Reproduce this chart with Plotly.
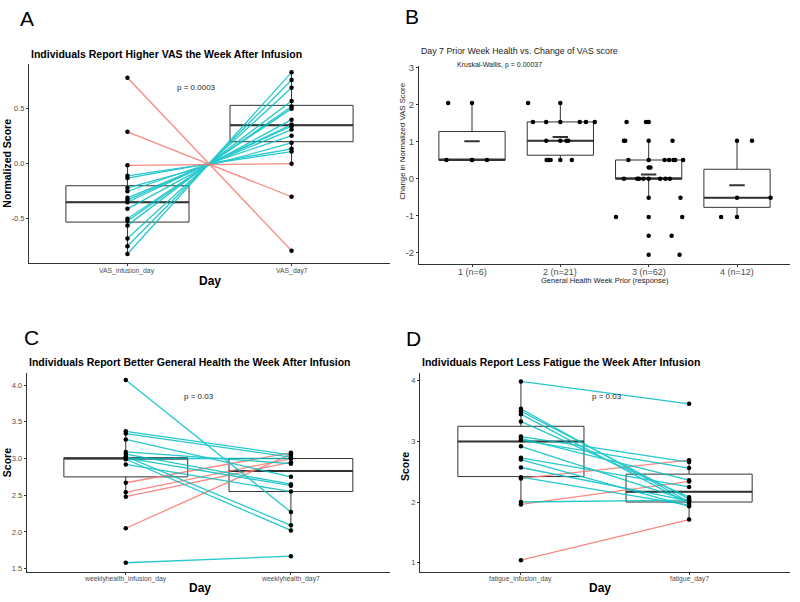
import plotly.graph_objects as go

# ---------------- DATA ----------------
# Panel A: normalized VAS
vas_days = ["VAS_infusion_day", "VAS_day7"]
vas_infusion = [0.78, 0.29, -0.015, -0.82, -0.75, -0.68, -0.56, -0.52, -0.50, -0.41, -0.35, -0.33, -0.31, -0.25, -0.22, -0.13, -0.11]
vas_day7 = [-0.79, -0.30, 0.0, 0.83, 0.76, 0.69, 0.57, 0.52, 0.50, 0.40, 0.355, 0.34, 0.31, 0.255, 0.19, 0.135, 0.11]
vas_group = ["down"] * 3 + ["up"] * 14
vas_q1 = [-0.53, 0.20]
vas_med = [-0.35, 0.35]
vas_q3 = [-0.20, 0.53]
vas_lo = [-0.82, 0.0]
vas_hi = [-0.015, 0.83]

# Panel B: change in VAS by general health
b_cats = ["1 (n=6)", "2 (n=21)", "3 (n=62)", "4 (n=12)"]
b_q1 = [0.51, 0.64, 0.0, -0.77]
b_med = [0.51, 1.03, 0.0, -0.51]
b_q3 = [1.28, 1.54, 0.51, 0.26]
b_lo = [0.51, 0.51, -0.51, -1.03]
b_hi = [2.05, 2.05, 1.03, 1.03]
b_mean = [1.02, 1.13, 0.12, -0.17]
b_g1_vals = [2.05, 2.05, 0.51, 0.51, 0.51, 0.51]
b_g1_jit = [-0.27, 0.0, -0.29, 0.0, 0.17, 0.0]
b_g2_vals = [2.05, 2.05, 1.54, 1.54, 1.54, 1.54, 1.54, 1.54, 1.03, 1.03, 1.03, 1.03, 0.51, 0.51, 0.51, 0.51, 0.51]
b_g2_jit = [-0.365, 0.0, -0.31, -0.16, 0.0, 0.22, 0.29, 0.39, -0.16, 0.0, 0.07, 0.09, -0.155, -0.13, -0.11, 0.0, 0.13]
b_g3_vals = [1.54, 1.54, 1.54, 1.03, 1.03, 1.03, 1.03, 0.51, 0.51, 0.51, 0.51, 0.51, 0.51, 0.51, 0.31, 0.31,
             0.0, 0.0, 0.0, 0.0, 0.0, 0.0, 0.0, 0.0, -0.51, -0.51, -1.03, -1.03, -1.03, -1.54, -1.54, -2.05, -2.05]
b_g3_jit = [-0.25, -0.03, 0.0, -0.28, -0.265, 0.0, 0.27, -0.23, 0.0, 0.18, 0.23, 0.28, 0.30, 0.39, 0.0, 0.02,
            -0.28, -0.13, -0.11, -0.06, 0.0, 0.13, 0.19, 0.24, 0.0, 0.36, -0.37, 0.0, 0.38, 0.0, 0.26, 0.0, 0.35]
b_g4_vals = [1.03, 1.03, -0.51, -0.51, -1.03, -1.03]
b_g4_jit = [0.0, 0.17, 0.0, 0.38, -0.18, 0.0]

# Panel C: weekly general health
health_days = ["weeklyhealth_infusion_day", "weeklyhealth_day7"]
health_infusion = [4.07, 3.37, 3.34, 3.26, 3.09, 3.06, 3.03, 3.01, 2.99, 2.92, 3.00, 1.58, 2.67, 2.54, 2.48, 2.05]
health_day7 = [2.27, 3.05, 3.02, 2.75, 2.93, 2.65, 2.09, 2.63, 2.02, 2.55, 3.00, 1.67, 3.08, 3.00, 2.95, 3.06]
health_group = ["down"] * 12 + ["up"] * 4
health_q1 = [2.75, 2.55]
health_med = [3.0, 2.83]
health_q3 = [3.01, 3.0]
health_lo = [2.47, 2.02]
health_hi = [3.37, 3.08]

# Panel D: fatigue
fat_days = ["fatigue_infusion_day", "fatigue_day7"]
fat_infusion = [3.99, 3.54, 3.50, 3.45, 3.33, 3.08, 3.05, 3.02, 2.92, 2.73, 2.70, 2.57, 2.41, 2.00, 2.39, 1.96, 1.04]
fat_day7 = [3.62, 2.00, 2.05, 1.97, 2.08, 2.66, 2.36, 2.56, 2.02, 2.25, 1.93, 2.02, 1.95, 2.03, 2.69, 2.34, 1.71]
fat_group = ["down"] * 14 + ["up"] * 3
fat_q1 = [2.42, 2.0]
fat_med = [3.0, 2.17]
fat_q3 = [3.25, 2.46]
fat_lo = [1.96, 1.71]
fat_hi = [3.99, 2.69]

# ---------------- STYLE ----------------
TEAL = "#00BFC4"
RED = "#F8766D"
AX = "#333333"
TICK = "#4D4D4D"
FONT = "Liberation Sans, Arial, sans-serif"
W, H = 800, 602
BOXW = 0.75


def px(x):
    return x / W


def py(y):
    return 1 - y / H


fig = go.Figure()


def add_boxes(xa, ya, q1, med, q3, lo, hi):
    pos = list(range(len(q1)))
    fig.add_trace(go.Box(
        x=pos, q1=q1, median=med, q3=q3, lowerfence=lo, upperfence=hi,
        width=BOXW, fillcolor="white", line=dict(color=AX, width=1),
        whiskerwidth=0, boxpoints=False, orientation="v",
        xaxis=xa, yaxis=ya, showlegend=False, hoverinfo="skip"))
    mx, my = [], []
    for i, m in enumerate(med):
        mx += [i - BOXW / 2, i + BOXW / 2, None]
        my += [m, m, None]
    fig.add_trace(go.Scatter(x=mx, y=my, mode="lines", line=dict(color=AX, width=2),
                             xaxis=xa, yaxis=ya, showlegend=False, hoverinfo="skip"))


def add_pairs(xa, ya, left, right, group, up_color):
    for grp in ["up", "down"]:
        lx, ly = [], []
        for a, b, g in zip(left, right, group):
            if g == grp:
                lx += [0, 1, None]
                ly += [a, b, None]
        col = up_color if grp == "up" else (RED if up_color == TEAL else TEAL)
        fig.add_trace(go.Scatter(x=lx, y=ly, mode="lines", line=dict(color=col, width=1.3),
                                 opacity=0.85, xaxis=xa, yaxis=ya, showlegend=False, hoverinfo="skip"))
    fig.add_trace(go.Scatter(x=[0] * len(left) + [1] * len(right), y=list(left) + list(right),
                             mode="markers", marker=dict(color="black", size=4.5),
                             xaxis=xa, yaxis=ya, showlegend=False, hoverinfo="skip"))


# Panel A
add_boxes("x", "y", vas_q1, vas_med, vas_q3, vas_lo, vas_hi)
add_pairs("x", "y", vas_infusion, vas_day7, vas_group, TEAL)

# Panel B
add_boxes("x2", "y2", b_q1, b_med, b_q3, b_lo, b_hi)
bx, by = [], []
for gi, (vals, jit) in enumerate([(b_g1_vals, b_g1_jit), (b_g2_vals, b_g2_jit),
                                  (b_g3_vals, b_g3_jit), (b_g4_vals, b_g4_jit)]):
    for v, j in zip(vals, jit):
        bx.append(gi + j)
        by.append(v)
fig.add_trace(go.Scatter(x=bx, y=by, mode="markers", marker=dict(color="black", size=4.5),
                         xaxis="x2", yaxis="y2", showlegend=False, hoverinfo="skip"))
fig.add_trace(go.Scatter(x=list(range(4)), y=b_mean, mode="markers",
                         marker=dict(symbol="line-ew", size=11, line=dict(color=AX, width=2)),
                         xaxis="x2", yaxis="y2", showlegend=False, hoverinfo="skip"))

# Panel C (teal = decrease here)
add_boxes("x3", "y3", health_q1, health_med, health_q3, health_lo, health_hi)
add_pairs("x3", "y3", health_infusion, health_day7, health_group, RED)

# Panel D
add_boxes("x4", "y4", fat_q1, fat_med, fat_q3, fat_lo, fat_hi)
add_pairs("x4", "y4", fat_infusion, fat_day7, fat_group, RED)


def xax(dom, labels, rng):
    return dict(domain=dom, range=rng, tickvals=list(range(len(labels))), showticklabels=False,
                showline=True, linecolor=AX, linewidth=1, ticks="outside", ticklen=2,
                tickcolor=AX, showgrid=False, zeroline=False, fixedrange=True)


def yax(dom, rng, vals, text, size, anchor):
    return dict(domain=dom, range=rng, tickvals=vals, ticktext=text, anchor=anchor,
                showline=True, linecolor=AX, linewidth=1, ticks="outside", ticklen=2,
                tickcolor=AX, tickfont=dict(size=size, color=TICK, family=FONT),
                showgrid=False, zeroline=False, fixedrange=True)


fig.update_layout(
    width=W, height=H, margin=dict(l=0, r=0, t=0, b=0),
    paper_bgcolor="white", plot_bgcolor="white",
    font=dict(family=FONT, color="black"),
    xaxis=dict(xax([px(29), px(390)], vas_days, [-0.6, 1.6]), anchor="y"),
    yaxis=yax([py(261), py(60)], [-0.90, 0.91], [-0.5, 0, 0.5], ["-0.5", "0.0", "0.5"], 7.5, "x"),
    xaxis2=dict(xax([px(419), px(790)], b_cats, [-0.6, 3.6]), anchor="y2"),
    yaxis2=yax([py(261.7), py(63)], [-2.29, 3.04], [-2, -1, 0, 1, 2, 3],
               ["-2", "-1", "0", "1", "2", "3"], 9.5, "x2"),
    xaxis3=dict(xax([px(26.7), px(390)], health_days, [-0.6, 1.6]), anchor="y3"),
    yaxis3=yax([py(572.7), py(371.7)], [1.455, 4.17], [1.5, 2.0, 2.5, 3.0, 3.5, 4.0],
               ["1.5", "2.0", "2.5", "3.0", "3.5", "4.0"], 7.5, "x3"),
    xaxis4=dict(xax([px(420), px(790)], fat_days, [-0.6, 1.6]), anchor="y4"),
    yaxis4=yax([py(572.7), py(371.7)], [0.846, 4.136], [1, 2, 3, 4], ["1", "2", "3", "4"], 7.5, "x4"),
)


def ann(text, x, y, size, bold=False, xanchor="center", angle=0, color="black"):
    t = f"<b>{text}</b>" if bold else text
    fig.add_annotation(text=t, x=px(x), y=py(y), xref="paper", yref="paper",
                       xanchor=xanchor, yanchor="middle", showarrow=False, textangle=angle,
                       font=dict(size=size, color=color, family=FONT))


def xticklabels(xref, labels, y, size):
    for i, lab in enumerate(labels):
        fig.add_annotation(text=lab, x=i, y=py(y), xref=xref, yref="paper",
                           xanchor="center", yanchor="middle", showarrow=False,
                           font=dict(size=size, color=TICK, family=FONT))


xticklabels("x", vas_days, 269.5, 6.8)
xticklabels("x2", b_cats, 270, 9)
xticklabels("x3", health_days, 580, 6.8)
xticklabels("x4", fat_days, 580, 6.8)

# Panel letters
ann("A", 27, 15, 21)
ann("B", 412, 13, 21)
ann("C", 31, 336, 21)
ann("D", 413, 337, 21)

# Titles
ann("Individuals Report Higher VAS the Week After Infusion", 29, 50, 10.5, bold=True, xanchor="left")
ann("Day 7 Prior Week Health vs. Change of VAS score", 419, 47, 8.8, xanchor="left", color="#222")
ann("Individuals Report Better General Health the Week After Infusion", 26.7, 361, 10.5, bold=True, xanchor="left")
ann("Individuals Report Less Fatigue the Week After Infusion", 420, 361, 10.5, bold=True, xanchor="left")

# Stats
ann("p = 0.0003", 196, 84, 8, color="#222")
ann("Kruskal-Wallis, p = 0.00037", 499, 62, 7, color="#222")
ann("p = 0.03", 199, 396, 8, color="#222")
ann("p = 0.03", 607, 396, 8, color="#222")

# Axis titles
ann("Day", 210, 279, 12, bold=True)
ann("Normalized Score", 7, 161, 10.5, bold=True, angle=-90)
ann("General Health Week Prior (response)", 605, 279, 7.5, color="#222")
ann("Change in Normalized VAS Score", 403, 139, 7.8, angle=-90, color="#222")
ann("Day", 200, 589, 12, bold=True)
ann("Score", 7, 463, 10.5, bold=True, angle=-90)
ann("Day", 600, 589, 12, bold=True)
ann("Score", 405, 467, 10.5, bold=True, angle=-90)

fig.write_html("out.html", config={"displayModeBar": False},
               post_script="document.body.style.margin='0px';document.body.style.padding='0px';")
